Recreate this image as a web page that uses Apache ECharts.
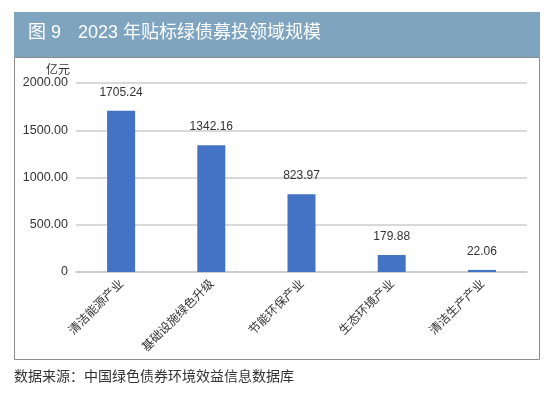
<!DOCTYPE html>
<html>
<head>
<meta charset="utf-8">
<script src="https://cdn.jsdelivr.net/npm/echarts@6/dist/echarts.min.js"></script>
<style>html,body{margin:0;padding:0;background:#fff;}#c{width:550px;height:393px;}</style>
</head>
<body>
<div id="c"></div>
<script>
const categories = ['清洁能源产业', '基础设施绿色升级', '节能环保产业', '生态环境产业', '清洁生产产业'];
const values = [1705.24, 1342.16, 823.97, 179.88, 22.06];
const yTicks = [0, 500, 1000, 1500, 2000];
const figLabel = '图 9';
const titleText = '2023 年贴标绿债募投领域规模';
const sourceText = '数据来源：中国绿色债券环境效益信息数据库';
const unitText = '亿元';

const font = '"Liberation Sans", "Noto Sans CJK SC", sans-serif';
const cjk = '"Noto Sans CJK SC", sans-serif';
const chart = echarts.init(document.getElementById('c'), null, {renderer: 'canvas'});
chart.setOption({
  animation: false,
  backgroundColor: '#fff',
  graphic: [
    {type: 'rect', shape: {x: 14.5, y: 57.5, width: 525, height: 302}, style: {fill: '#fff', stroke: '#8c8c8c', lineWidth: 1}, z: -1},
    {type: 'rect', shape: {x: 14, y: 12, width: 526, height: 45}, style: {fill: '#7ea4c0'}, z: 0},
    {type: 'text', left: 28, top: 24, style: {text: figLabel, fill: '#ffffff', font: '18px ' + font}},
    {type: 'text', left: 78, top: 24, style: {text: titleText, fill: '#ffffff', font: '18px ' + font}},
    {type: 'text', left: 14, top: 369, style: {text: sourceText, fill: '#333', font: '14px ' + cjk}}
  ],
  grid: {left: 76, right: 23, top: 83, bottom: 121, containLabel: false},
  xAxis: {
    type: 'category',
    data: categories,
    axisLine: {lineStyle: {color: '#c8c8c8', width: 1.5}},
    axisTick: {show: false},
    axisLabel: {rotate: 45, color: '#333', fontSize: 12, fontFamily: cjk, margin: 9, interval: 0}
  },
  yAxis: {
    type: 'value',
    min: yTicks[0],
    max: yTicks[yTicks.length - 1],
    interval: 500,
    name: unitText,
    nameLocation: 'end',
    nameGap: 8,
    nameTextStyle: {color: '#333', fontSize: 12, fontFamily: cjk, align: 'right', padding: [0, 6, 0, 0]},
    axisLine: {show: false},
    axisTick: {show: false},
    splitLine: {lineStyle: {color: '#cccccc', width: 1.5}},
    axisLabel: {color: '#333', fontSize: 12.5, fontFamily: '"Liberation Sans", sans-serif', margin: 8,
      formatter: v => v === 0 ? '0' : v.toFixed(2)}
  },
  series: [{
    type: 'bar',
    data: values,
    barWidth: 28,
    itemStyle: {color: '#4472c4'},
    label: {show: true, position: 'top', distance: 12, color: '#333', fontSize: 12,
      fontFamily: '"Liberation Sans", sans-serif', formatter: p => p.value.toFixed(2)}
  }]
});
</script>
</body>
</html>
